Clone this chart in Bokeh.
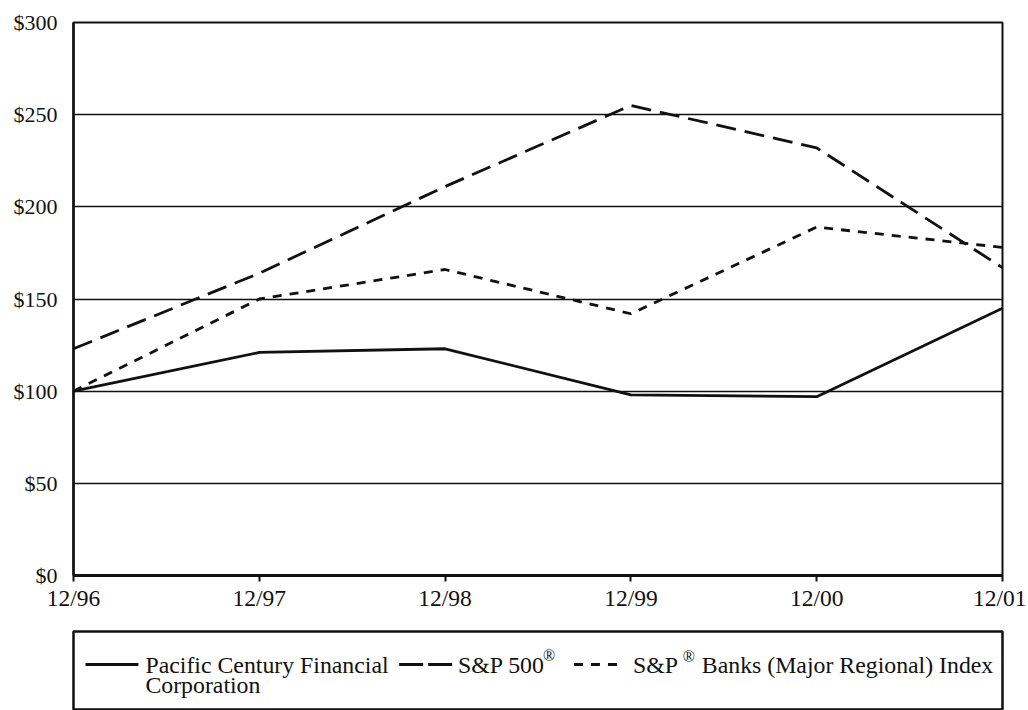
from bokeh.plotting import figure
from bokeh.layouts import column
from bokeh.models import Range1d, FixedTicker
from bokeh.core.properties import value
from bokeh.embed import file_html
from bokeh.resources import INLINE

# ---- data ----
dates = ["12/96", "12/97", "12/98", "12/99", "12/00", "12/01"]
pacific = [100, 121, 123, 98, 97, 145]
sp500 = [123, 164, 211, 255, 232, 167]
banks = [100, 150, 166, 142, 189, 178]
y_ticks = [0, 50, 100, 150, 200, 250, 300]
series_names = ["Pacific Century Financial", "Corporation", "S&P 500", "S&P", "Banks (Major Regional) Index"]

FONT = "Liberation Serif"
INK = "#111111"
xs = list(range(len(dates)))
W = 1026

p = figure(width=W, height=623, output_backend="svg", toolbar_location=None,
           x_range=Range1d(0, len(dates) - 1), y_range=Range1d(0, 300),
           min_border_left=72, min_border_right=W - 1002, min_border_top=22, min_border_bottom=48)
p.background_fill_color = "white"
p.border_fill_color = "white"
p.outline_line_color = INK
p.outline_line_width = 2

p.xgrid.visible = False
p.ygrid.ticker = FixedTicker(ticks=y_ticks[1:-1])
p.ygrid.grid_line_color = INK
p.ygrid.grid_line_width = 1.6

p.xaxis.ticker = FixedTicker(ticks=xs)
p.xaxis.major_label_overrides = {i: d for i, d in enumerate(dates)}
p.yaxis.ticker = FixedTicker(ticks=y_ticks)
p.yaxis.major_label_overrides = {v: "$" + str(v) for v in y_ticks}

for ax in (p.xaxis[0], p.yaxis[0]):
    ax.axis_line_color = INK
    ax.major_tick_line_color = INK
    ax.minor_tick_line_color = None
    ax.major_label_text_font = FONT
    ax.major_label_text_color = INK
p.yaxis.major_label_text_font_size = "22px"
p.xaxis.major_label_text_font_size = "23.5px"
p.xaxis.axis_line_width = 3
p.xaxis.major_tick_line_width = 2
p.xaxis.major_tick_out = 6
p.xaxis.major_tick_in = 0
p.xaxis.major_label_standoff = 3
p.yaxis.axis_line_width = 2.5
p.yaxis.major_tick_out = 0
p.yaxis.major_tick_in = 0
p.yaxis.major_label_standoff = 16

p.line(xs, pacific, line_color=INK, line_width=2.8)
p.line(xs, sp500, line_color=INK, line_width=2.8, line_dash="20 9")
p.line(xs, banks, line_color=INK, line_width=2.8, line_dash="9 8")

# ---- legend box (separate panel below the chart) ----
LL, LR = 73, 1003
LW = LR - LL
LH = 78
leg = figure(width=W, height=87, output_backend="svg", toolbar_location=None,
             x_range=Range1d(0, LW), y_range=Range1d(0, LH),
             min_border_left=LL, min_border_right=W - LR, min_border_top=8, min_border_bottom=1)
leg.axis.visible = False
leg.grid.visible = False
leg.outline_line_color = INK
leg.outline_line_width = 2.5
leg.background_fill_color = "white"
leg.border_fill_color = "white"

ly = LH - 33
leg.line([12, 65], [ly, ly], line_color=INK, line_width=2.8)
leg.line([326, 380], [ly, ly], line_color=INK, line_width=2.8, line_dash="24 5")
leg.line([501, 546], [ly, ly], line_color=INK, line_width=2.8, line_dash="9 8")

tkw = dict(text_font=value(FONT), text_font_size="23.8px", text_color=INK,
           text_baseline="middle", text_align="left")
leg.text(x=[72], y=[ly], text=[series_names[0]], **tkw)
leg.text(x=[72], y=[ly - 20], text=[series_names[1]], **tkw)
leg.text(x=[385], y=[ly], text=[series_names[2]], **tkw)
leg.text(x=[560], y=[ly], text=[series_names[3]], **tkw)
leg.text(x=[629], y=[ly], text=[series_names[4]], **tkw)
skw = dict(text_font=value(FONT), text_font_size="16px", text_color=INK,
           text_baseline="middle", text_align="left")
leg.text(x=[470], y=[ly + 9], text=["®"], **skw)
leg.text(x=[610], y=[ly + 8], text=["®"], **skw)

layout = column(p, leg, spacing=0)
open("out.html", "w").write(file_html(layout, INLINE))
